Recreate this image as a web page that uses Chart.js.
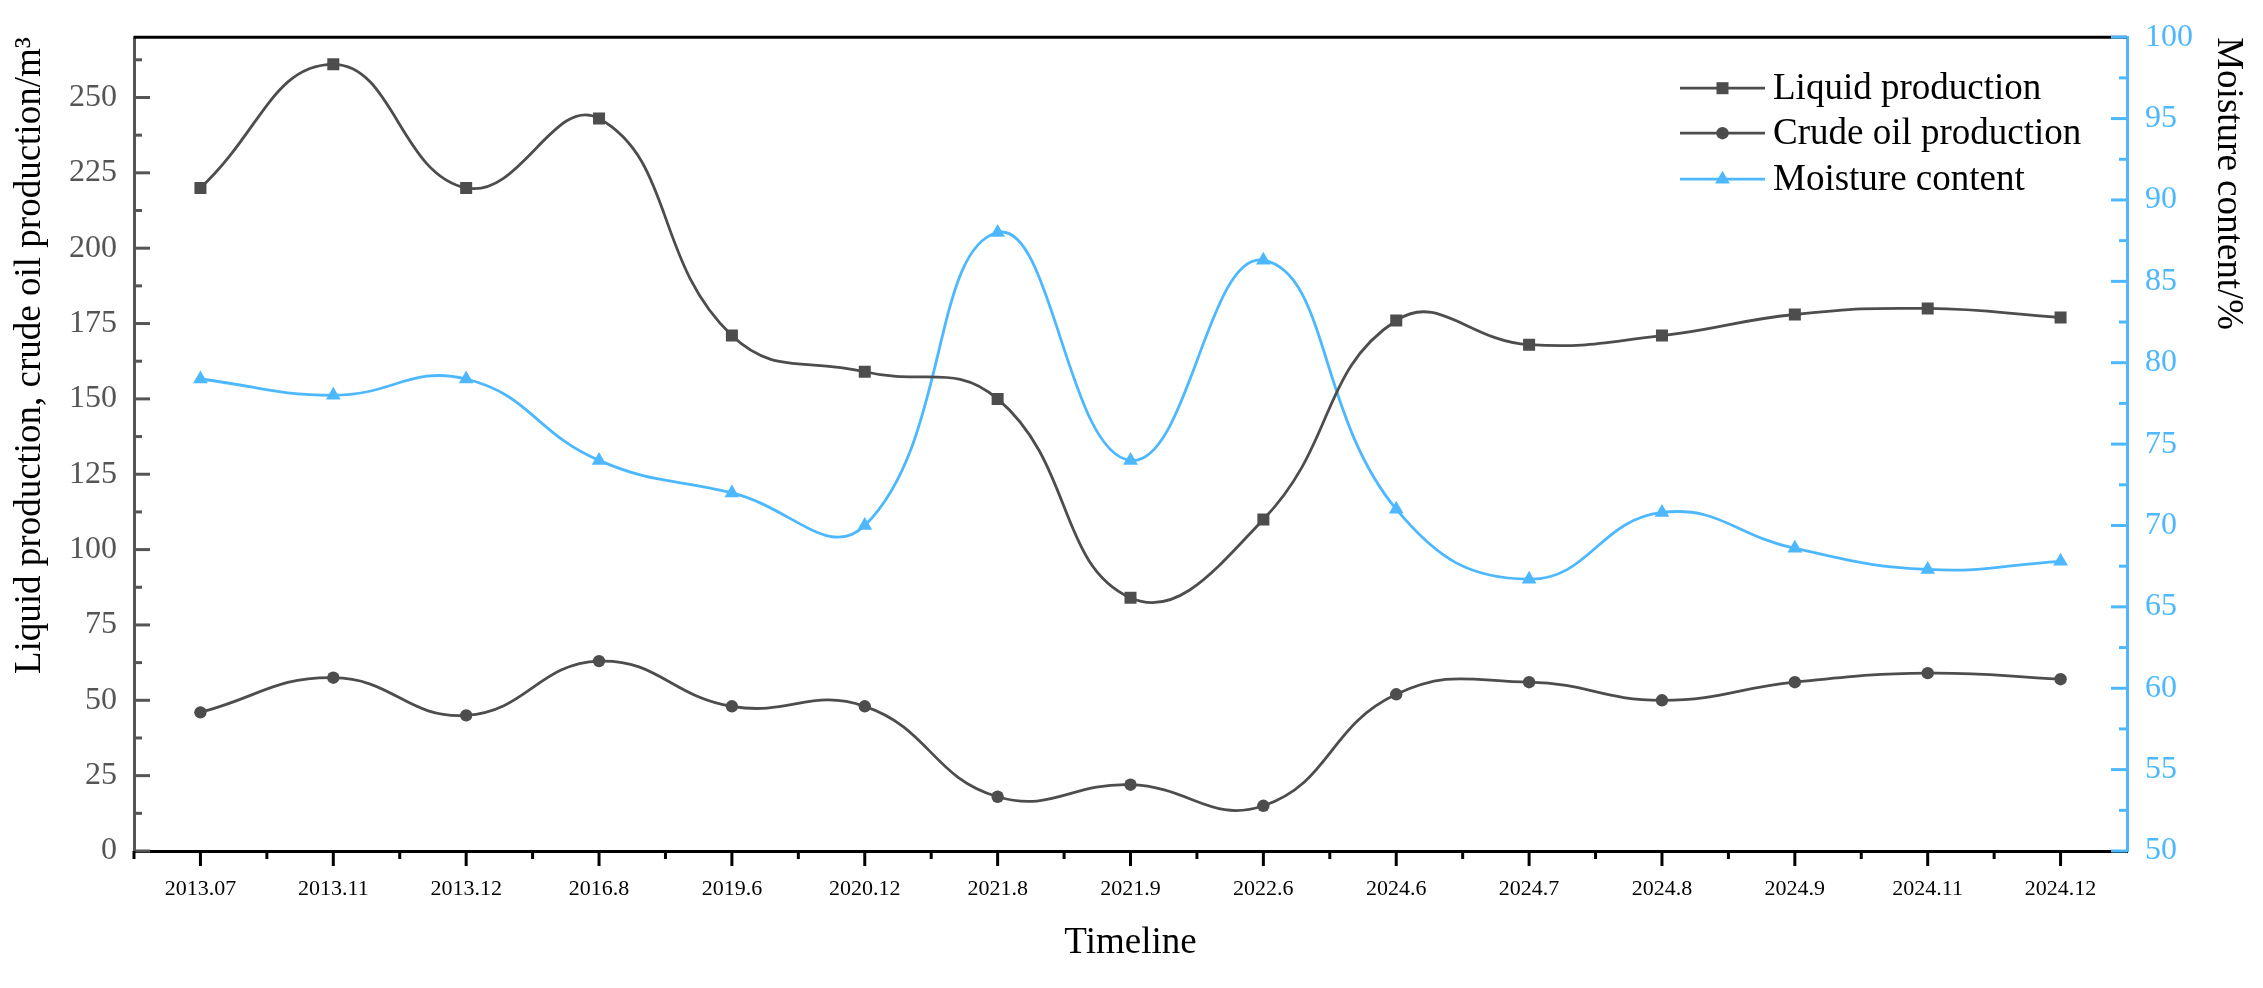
<!DOCTYPE html>
<html><head><meta charset="utf-8">
<script src="https://cdn.jsdelivr.net/npm/chart.js@4.4.1/dist/chart.umd.min.js"></script>
<style>html,body{margin:0;padding:0;background:#fff;}canvas{display:block;}</style>
</head><body>
<canvas id="c" width="2263" height="988"></canvas>
<script>
// ---- data ----
const categories = ['2013.07','2013.11','2013.12','2016.8','2019.6','2020.12','2021.8','2021.9','2022.6','2024.6','2024.7','2024.8','2024.9','2024.11','2024.12'];
const liquidProduction = [220,261,220,243,171,159,150,84,110,176,168,171,178,180,177];
const crudeOilProduction = [46,57.5,45,63,48,48,18,22,15,52,56,50,56,59,57];
const moistureContent = [79,78,79,74,72,70,88,74,86.3,71,66.7,70.8,68.6,67.3,67.8];
const leftTickValues = [0,25,50,75,100,125,150,175,200,225,250];
const leftMinorTicks = [12.5,37.5,62.5,87.5,112.5,137.5,162.5,187.5,212.5,237.5,262.5];
const rightTickValues = [50,55,60,65,70,75,80,85,90,95,100];
const rightMinorTicks = [52.5,57.5,62.5,67.5,72.5,77.5,82.5,87.5,92.5,97.5];
const seriesLabels = ['Liquid production','Crude oil production','Moisture content'];

const FONT = '"Liberation Serif", "Times New Roman", serif';
const GRAY = '#4D4D4D';
const AXGRAY = '#555555';
const BLUE = '#4DB8FF';

function drawMarker(ctx, style, r, x, y, color) {
  ctx.save();
  ctx.fillStyle = color;
  ctx.beginPath();
  if (style === 'rect') {
    const s = Math.SQRT1_2 * r;
    ctx.rect(x - s, y - s, 2 * s, 2 * s);
  } else if (style === 'circle') {
    ctx.arc(x, y, r, 0, Math.PI * 2);
  } else if (style === 'triangle') {
    ctx.moveTo(x, y - r);
    ctx.lineTo(x + Math.sin(Math.PI / 3) * r, y + r / 2);
    ctx.lineTo(x - Math.sin(Math.PI / 3) * r, y + r / 2);
    ctx.closePath();
  }
  ctx.fill();
  ctx.restore();
}

const decor = {
  id: 'decor',
  afterDraw(chart) {
    const {ctx, chartArea: ca, scales} = chart;
    const ln = (x1, y1, x2, y2) => { ctx.beginPath(); ctx.moveTo(x1, y1); ctx.lineTo(x2, y2); ctx.stroke(); };
    ctx.save();
    ctx.lineCap = 'butt';
    ctx.lineWidth = 3;
    // top frame
    ctx.strokeStyle = '#000';
    ln(ca.left, ca.top, ca.right, ca.top);
    // left ticks (inward)
    ctx.strokeStyle = AXGRAY;
    leftTickValues.forEach(v => { const p = scales.y.getPixelForValue(v); ln(ca.left, p, ca.left + 16, p); });
    leftMinorTicks.forEach(v => { const p = scales.y.getPixelForValue(v); ln(ca.left, p, ca.left + 8, p); });
    // right ticks (inward)
    ctx.strokeStyle = BLUE;
    rightTickValues.forEach(v => { const p = scales.y1.getPixelForValue(v); ln(ca.right - 16, p, ca.right, p); });
    rightMinorTicks.forEach(v => { const p = scales.y1.getPixelForValue(v); ln(ca.right - 8, p, ca.right, p); });
    // x ticks (outward)
    ctx.strokeStyle = '#000';
    const xs = scales.x;
    const half = (xs.getPixelForValue(1) - xs.getPixelForValue(0)) / 2;
    categories.forEach((c, i) => {
      const p = xs.getPixelForValue(i);
      ln(p, ca.bottom, p, ca.bottom + 15);
      ln(p - half, ca.bottom, p - half, ca.bottom + 8);
    });
    // legend
    const x0 = ca.right - 447;
    const rows = [ca.top + 51, ca.top + 96, ca.top + 142];
    ctx.font = '37px ' + FONT;
    ctx.textBaseline = 'middle';
    ctx.textAlign = 'left';
    chart.data.datasets.forEach((ds, i) => {
      const y = rows[i];
      ctx.strokeStyle = ds.borderColor;
      ctx.lineWidth = 2.8;
      ln(x0, y, x0 + 85, y);
      drawMarker(ctx, ds.pointStyle, ds.pointRadius, x0 + 42.5, y, ds.borderColor);
      ctx.fillStyle = '#000';
      ctx.fillText(ds.label, x0 + 93, y + 1);
    });
    ctx.restore();
  }
};

new Chart(document.getElementById('c'), {
  type: 'line',
  data: {
    labels: categories,
    datasets: [
      { label: seriesLabels[0], data: liquidProduction, yAxisID: 'y', borderColor: GRAY, backgroundColor: GRAY,
        pointStyle: 'rect', pointRadius: 8.5, pointBorderWidth: 0, borderWidth: 2.8, tension: 0.45 },
      { label: seriesLabels[1], data: crudeOilProduction, yAxisID: 'y', borderColor: GRAY, backgroundColor: GRAY,
        pointStyle: 'circle', pointRadius: 6.2, pointBorderWidth: 0, borderWidth: 2.8, tension: 0.45 },
      { label: seriesLabels[2], data: moistureContent, yAxisID: 'y1', borderColor: BLUE, backgroundColor: BLUE,
        pointStyle: 'triangle', pointRadius: 8.5, pointBorderWidth: 0, borderWidth: 2.8, tension: 0.45 }
    ]
  },
  options: {
    responsive: false,
    animation: false,
    devicePixelRatio: 1,
    layout: { padding: { top: 32, left: 0, right: 0, bottom: 0 } },
    plugins: { legend: { display: false }, tooltip: { enabled: false } },
    scales: {
      x: {
        type: 'category',
        offset: true,
        grid: { display: true, drawOnChartArea: false, drawTicks: false },
        border: { display: true, color: '#000', width: 3 },
        ticks: { font: { family: FONT, size: 22 }, color: '#000', padding: 25, maxRotation: 0, autoSkip: false },
        title: { display: true, text: 'Timeline', font: { family: FONT, size: 37 }, color: '#000', padding: { top: 0, bottom: 23 } },
        afterFit(s) { s.height = 137; }
      },
      y: {
        position: 'left',
        min: 0, max: 270,
        grid: { display: true, drawOnChartArea: false, drawTicks: false },
        border: { display: true, color: AXGRAY, width: 3 },
        ticks: { font: { family: FONT, size: 32 }, color: AXGRAY, padding: 17 },
        afterBuildTicks(s) { s.ticks = leftTickValues.map(v => ({ value: v })); },
        title: { display: true, text: 'Liquid production, crude oil production/m³', align: 'end', font: { family: FONT, size: 37 }, color: '#000', padding: { top: 8, bottom: 0 } },
        afterFit(s) { s.width = 134; }
      },
      y1: {
        position: 'right',
        min: 50, max: 100,
        grid: { display: true, drawOnChartArea: false, drawTicks: false },
        border: { display: true, color: BLUE, width: 3 },
        ticks: { font: { family: FONT, size: 32 }, color: BLUE, padding: 18 },
        afterBuildTicks(s) { s.ticks = rightTickValues.map(v => ({ value: v })); },
        title: { display: true, text: 'Moisture content/%', align: 'end', font: { family: FONT, size: 37 }, color: '#000', padding: { top: 13, bottom: 0 } },
        afterFit(s) { s.width = 136; }
      }
    }
  },
  plugins: [decor]
});
</script>
</body></html>
